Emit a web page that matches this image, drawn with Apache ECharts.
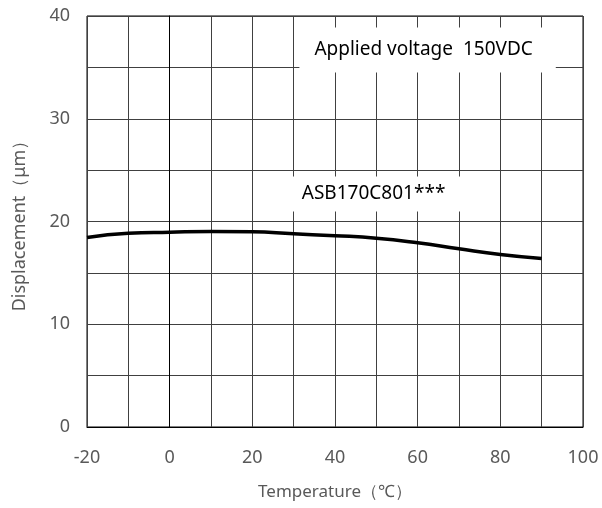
<!DOCTYPE html>
<html>
<head>
<meta charset="utf-8">
<script src="https://cdn.jsdelivr.net/npm/echarts@6/dist/echarts.min.js"></script>
<style>html,body{margin:0;padding:0;background:#fff;}#c{width:602px;height:508px;}</style>
</head>
<body>
<div id="c"></div>
<script>
var temperatures = [-20, -10, 0, 10, 20, 30, 40, 50, 60, 70, 80, 90];
var displacement = [18.44, 18.86, 18.96, 19.03, 19.0, 18.8, 18.62, 18.38, 17.93, 17.34, 16.79, 16.4];
var xTickLabels = [-20, 0, 20, 40, 60, 80, 100];
var yTickLabels = [0, 10, 20, 30, 40];
var voltageNote = {text: 'Applied voltage  150VDC', x: 62.4, y: 36.7};
var modelNote = {text: 'ASB170C801***', x: 50.3, y: 22.68};

var FONT = 'Noto Sans';
var chart = echarts.init(document.getElementById('c'));
var points = temperatures.map(function (t, i) { return [t, displacement[i]]; });
function onlyListed(list) {
  return function (v) { return list.indexOf(v) >= 0 ? String(v) : ''; };
}
chart.setOption({
  animation: false,
  backgroundColor: '#fff',
  grid: {left: 87, right: 19, top: 16, bottom: 81, show: true, borderColor: '#000', borderWidth: 1},
  xAxis: {
    type: 'value', min: -20, max: 100, interval: 10,
    name: 'Temperature（℃）', nameLocation: 'middle', nameGap: 57,
    nameTextStyle: {fontFamily: FONT, fontSize: 17, color: '#595959'},
    axisLine: {show: true, lineStyle: {color: '#000'}},
    axisTick: {show: false},
    axisLabel: {formatter: onlyListed(xTickLabels), fontFamily: FONT, fontSize: 18, color: '#595959', margin: 22},
    splitLine: {show: true, lineStyle: {color: '#404040', width: 1}}
  },
  yAxis: {
    type: 'value', min: 0, max: 40, interval: 5,
    name: 'Displacement（μm）', nameLocation: 'middle', nameGap: 58,
    nameTextStyle: {fontFamily: FONT, fontSize: 18, color: '#595959'},
    axisLine: {show: true, lineStyle: {color: '#000'}},
    axisTick: {show: false},
    axisLabel: {formatter: onlyListed(yTickLabels), fontFamily: FONT, fontSize: 18, color: '#595959', margin: 17},
    splitLine: {show: true, lineStyle: {color: '#404040', width: 1}}
  },
  series: [{
    type: 'line',
    data: points,
    smooth: true,
    symbol: 'none',
    lineStyle: {color: '#000', width: 3.5},
    markPoint: {
      symbol: 'rect', symbolSize: 0,
      label: {show: true, fontFamily: FONT, fontSize: 19, color: '#000', backgroundColor: '#fff'},
      data: [
        {coord: [voltageNote.x, voltageNote.y], label: {formatter: voltageNote.text, padding: [13, 23, 13, 15]}},
        {coord: [modelNote.x, modelNote.y], label: {formatter: modelNote.text, padding: [8, 18, 8, 10]}}
      ]
    }
  }]
});
</script>
</body>
</html>
